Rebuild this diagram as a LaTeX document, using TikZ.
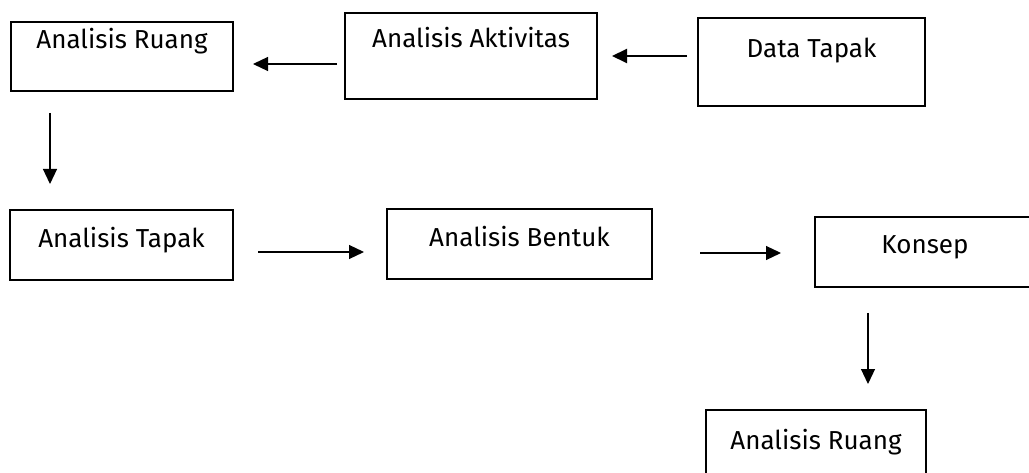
\documentclass[tikz,border=0pt]{standalone}
\usepackage{fontspec}
\setmainfont{Fira Sans}
\usetikzlibrary{arrows.meta}

\tikzstyle{box} = [draw, line width=2pt, rectangle, inner sep=0pt, anchor=base, font=\fontsize{26}{30}\selectfont]
\tikzstyle{arr} = [line width=1.2pt, -{Triangle[length=15pt, width=14pt]}]

\begin{document}
\begin{tikzpicture}[x=1pt, y=-1pt]
    \useasboundingbox (0,0) rectangle (1029,473);
    \node[box, minimum width=222pt, text height=26.5pt, text depth=42.5pt] (ruangA) at (122, 48.5) {Analisis Ruang};
    \node[box, minimum width=252pt, text height=35pt, text depth=51pt] (aktivitas) at (471, 48) {Analisis Aktivitas};
    \node[box, minimum width=227pt, text height=39.3pt, text depth=48.7pt] (data) at (811.5, 57.3) {Data Tapak};
    \node[box, minimum width=223pt, text height=37.3pt, text depth=32.7pt] (tapak) at (121.5, 247.3) {Analisis Tapak};
    \node[box, minimum width=265pt, text height=37.7pt, text depth=32.3pt] (bentuk) at (519.5, 246.7) {Analisis Bentuk};
    \node[box, minimum width=220pt, text height=36.3pt, text depth=33.7pt] (konsep) at (925, 253.3) {Konsep};
    \node[box, minimum width=220pt, text height=39pt, text depth=30pt] (ruangB) at (816, 449) {Analisis Ruang};
    \draw[arr, line width=2pt, shorten <=10pt, shorten >=14pt] ([yshift=6pt]data.west) -- ([yshift=6pt]data.west -| aktivitas.east);
    \draw[arr, shorten <=7pt, shorten >=19pt] ([yshift=-8pt]aktivitas.west) -- ([yshift=-8pt]aktivitas.west -| ruangA.east);
    \draw[arr, shorten <=21pt, shorten >=25pt] ([xshift=40pt]ruangA.south west) -- ([xshift=40pt]ruangA.south west |- tapak.north);
    \draw[arr, shorten <=24pt, shorten >=22pt] ([yshift=-7pt]tapak.east) -- ([yshift=-7pt]tapak.east -| bentuk.west);
    \draw[arr, shorten <=47pt, shorten >=33pt] ([yshift=-9pt]bentuk.east) -- ([yshift=-9pt]bentuk.east -| konsep.west);
    \draw[arr, shorten <=25pt, shorten >=25pt] ([xshift=54pt]konsep.south west) -- ([xshift=54pt]konsep.south west |- ruangB.north);
\end{tikzpicture}
\end{document}
